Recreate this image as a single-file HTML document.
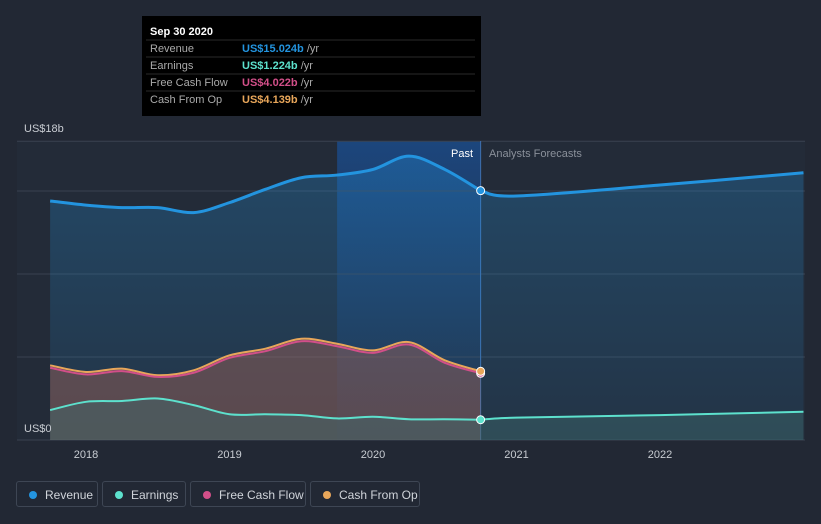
<!DOCTYPE html>
<html><head><meta charset="utf-8"><style>
body{margin:0;background:#222834;width:821px;height:524px;overflow:hidden;font-family:"Liberation Sans",sans-serif}
svg{position:absolute;left:0;top:0}
.leg{position:absolute;top:481px;height:26px;border:1px solid #3e4654;border-radius:3px;color:#d0d4da;font-size:12px;line-height:26px;box-sizing:border-box;padding-left:28px}
.leg i{position:absolute;left:12px;top:9px;width:8px;height:8px;border-radius:50%}
</style></head><body>
<svg width="821" height="524" id="c"></svg>
<div class="leg" style="left:16px;width:82px"><i style="background:#2394df"></i>Revenue</div>
<div class="leg" style="left:102px;width:84px"><i style="background:#5de1cd"></i>Earnings</div>
<div class="leg" style="left:190px;width:116px"><i style="background:#d24f89"></i>Free Cash Flow</div>
<div class="leg" style="left:310px;width:110px"><i style="background:#e8a65a"></i>Cash From Op</div>
<script>
const pastYears=[2017.75,2018,2018.25,2018.5,2018.75,2019,2019.25,2019.5,2019.75,2020,2020.25,2020.5,2020.75];
const revenue=[14.4,14.15,14.0,14.0,13.7,14.3,15.1,15.8,15.96,16.3,17.1,16.3,15.02];
const cashFromOp=[4.5,4.1,4.3,3.9,4.2,5.1,5.5,6.1,5.8,5.4,5.9,4.8,4.14];
const freeCashFlow=[4.35,3.95,4.15,3.8,4.05,4.95,5.35,5.95,5.65,5.25,5.75,4.65,4.02];
const earnings=[1.8,2.3,2.35,2.5,2.1,1.55,1.55,1.5,1.3,1.4,1.25,1.25,1.22];
const fcYears=[2020.75,2021,2022,2023];
const revenueFc=[15.02,14.7,15.36,16.1];
const earningsFc=[1.22,1.35,1.5,1.7];
const xTicks=[2018,2019,2020,2021,2022];
const NS="http://www.w3.org/2000/svg";
const svg=document.getElementById('c');
const X=t=>86+(t-2018)*143.5, Y=v=>440-v*16.6;
function el(tag,a,name,p){const e=document.createElementNS(NS,tag);for(const k in a)e.setAttribute(k,a[k]);


(p||svg).appendChild(e);return e;}
function path(xs,vs){const p=xs.map((t,i)=>[X(t),Y(vs[i])]);let d='M'+p[0];for(let i=0;i<p.length-1;i++){const a=p[i-1]||p[i],b=p[i],c=p[i+1],e=p[i+2]||c;
d+=`C${b[0]+(c[0]-a[0])/6},${b[1]+(c[1]-a[1])/6} ${c[0]-(e[0]-b[0])/6},${c[1]-(e[1]-b[1])/6} ${c[0]},${c[1]}`;}return d;}
const defs=el('defs',{},'defs');
defs.innerHTML='<linearGradient id="gb" x1="0" y1="0" x2="0" y2="1"><stop offset="0" stop-color="#2394df" stop-opacity="0.28"/><stop offset="1" stop-color="#2394df" stop-opacity="0.08"/></linearGradient><linearGradient id="hl" x1="0" y1="0" x2="0" y2="1"><stop offset="0" stop-color="#1a4f94" stop-opacity="0.75"/><stop offset="1" stop-color="#1a3f74" stop-opacity="0.1"/></linearGradient>';
el('rect',{x:17,y:141,width:788,height:299,fill:'#232b38'},'plot-bg');
el('rect',{x:X(2019.75),y:141,width:X(2020.75)-X(2019.75),height:299,fill:'url(#hl)'},'past-highlight');
[0,5,10,15,18].forEach(v=>el('line',{x1:17,x2:805,y1:Y(v),y2:Y(v),stroke:'#3a4250','stroke-width':1},'gridline'));
el('line',{x1:X(2020.75),x2:X(2020.75),y1:141,y2:440,stroke:'#3f6fae','stroke-width':1},'past-divider');
const bx=`L${X(2023)},440L${X(2017.75)},440Z`;
el('path',{d:path(pastYears,revenue)+path(fcYears,revenueFc).replace('M','L')+bx,fill:'url(#gb)'},'revenue-area');
el('path',{d:path(pastYears,cashFromOp)+`L${X(2020.75)},440L${X(2017.75)},440Z`,fill:'#b06a5a',opacity:0.4},'cash-area');
el('path',{d:path(pastYears,earnings)+path(fcYears,earningsFc).replace('M','L')+bx,fill:'#3d6b6c',opacity:0.45},'earnings-area');
el('path',{d:path(pastYears,revenue),fill:'none',stroke:'#2394df','stroke-width':3},'revenue-line');
el('path',{d:path(fcYears,revenueFc),fill:'none',stroke:'#2394df','stroke-width':3},'revenue-forecast-line');
el('path',{d:path(pastYears,cashFromOp),fill:'none',stroke:'#e8a65a','stroke-width':2},'cash-from-op-line');
el('path',{d:path(pastYears,freeCashFlow),fill:'none',stroke:'#d24f89','stroke-width':2},'free-cash-flow-line');
el('path',{d:path(pastYears,earnings),fill:'none',stroke:'#5de1cd','stroke-width':2},'earnings-line');
el('path',{d:path(fcYears,earningsFc),fill:'none',stroke:'#5de1cd','stroke-width':2},'earnings-forecast-line');
const L=pastYears.length-1;
[[revenue,'#2394df'],[freeCashFlow,'#d24f89'],[cashFromOp,'#e8a65a'],[earnings,'#5de1cd']].forEach(([s,c])=>el('circle',{cx:X(pastYears[L]),cy:Y(s[L]),r:4,fill:c,stroke:'#fff','stroke-width':1},'point-marker'));
function txt(x,y,s,a,name){const t=el('text',Object.assign({x,y,'font-size':11,fill:'#c8ccd2','font-family':'Liberation Sans'},a),name);t.textContent=s;return t;}
xTicks.forEach(t=>txt(X(t),458,t,{'text-anchor':'middle'},'x-tick-label'));
txt(24,132,'US$18b',{},'y-label-top');txt(24,432,'US$0',{},'y-label-zero');
txt(473,157,'Past',{'text-anchor':'end',fill:'#fff'},'past-label');
txt(489,157,'Analysts Forecasts',{fill:'#8a909a'},'forecast-label');
el('rect',{x:142,y:16,width:339,height:100,fill:'#000'},'tooltip');
txt(150,35,'Sep 30 2020',{fill:'#fff','font-weight':'bold'},'tooltip-date');
[['Revenue','US$15.024b','#2394df'],['Earnings','US$1.224b','#5de1cd'],['Free Cash Flow','US$4.022b','#d24f89'],['Cash From Op','US$4.139b','#e8a65a']].forEach((r,i)=>{const y=52+i*17;
el('line',{x1:146,x2:475,y1:y-12,y2:y-12,stroke:'#2a2a2a'},'tooltip-divider');
txt(150,y,r[0],{fill:'#aaa'},'tooltip-label');
const t=txt(242,y,r[1],{fill:r[2],'font-weight':'bold'},'tooltip-value');
const ts=document.createElementNS(NS,'tspan');ts.setAttribute('fill','#aaa');ts.setAttribute('font-weight','normal');ts.textContent=' /yr';t.appendChild(ts);});
</script>
</body></html>
